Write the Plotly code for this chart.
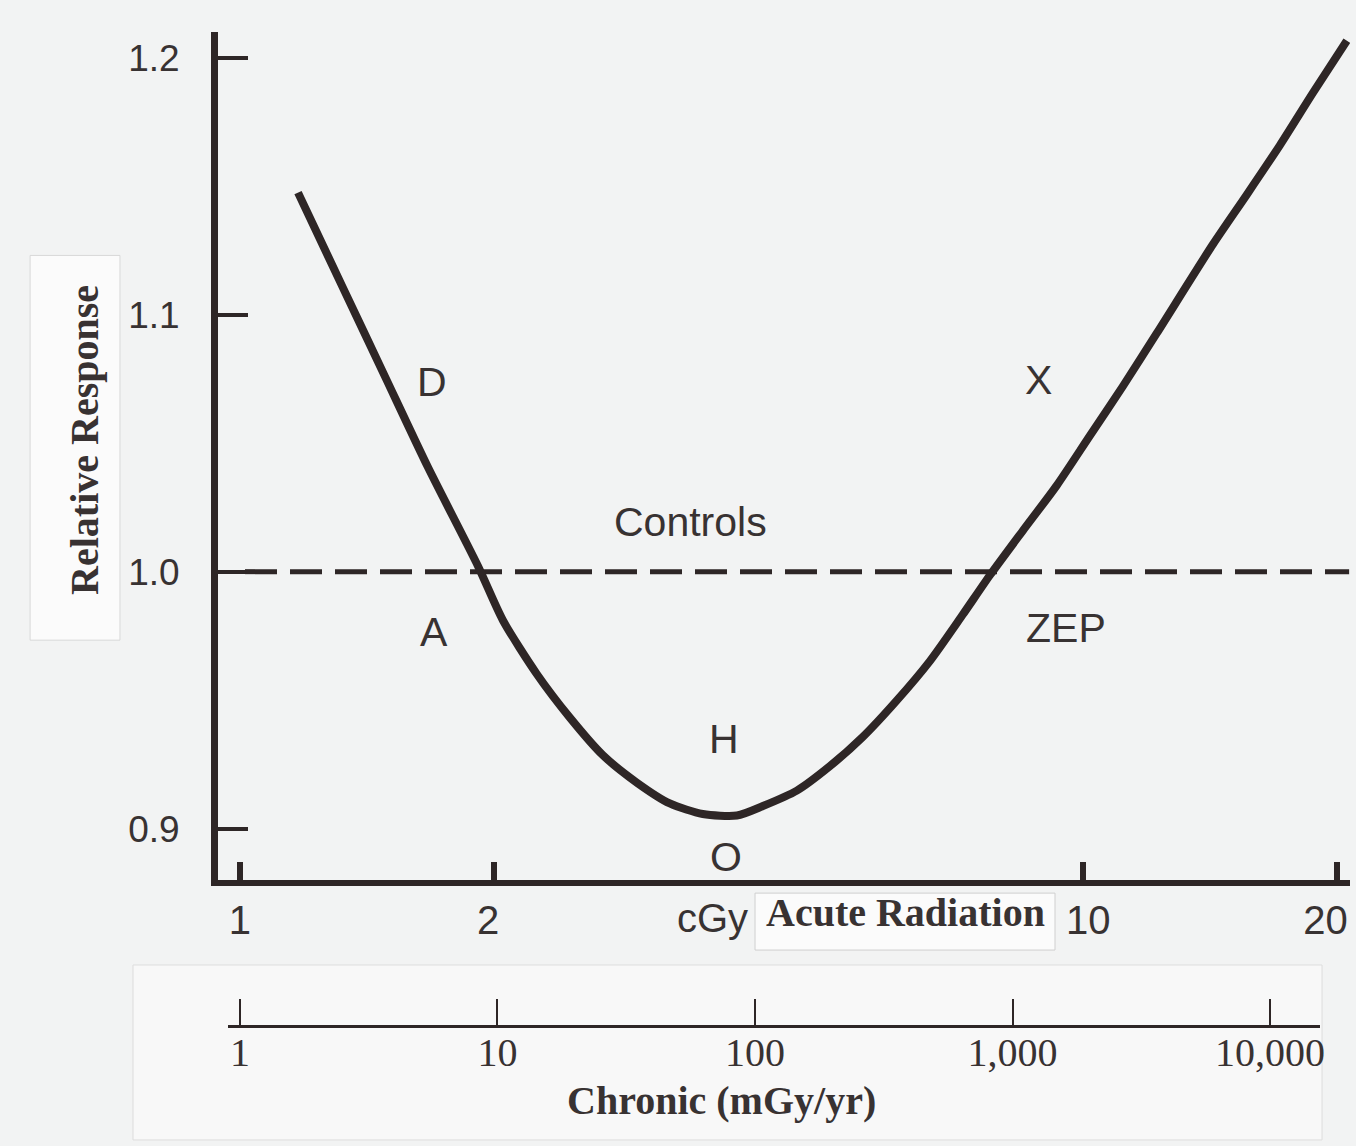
"""
Hormesis dose-response curve: relative response vs acute / chronic radiation.
"""

import math

import plotly.graph_objects as go

# curve (acute dose in cGy, relative response)
acute_dose = [1.172, 1.321, 1.486, 1.671, 1.916, 2.051, 2.250, 2.463, 2.695, 2.958,
              3.236, 3.541, 3.887, 4.173, 4.579, 5.011, 5.483, 6.017, 6.585, 7.205,
              7.759, 8.487, 9.315, 10.19, 11.15, 12.24, 14.27, 15.65, 17.13, 18.75, 20.57]
response = [1.1475, 1.1114, 1.0760, 1.0407, 1.0022, 0.9811, 0.9602, 0.9432, 0.9286, 0.9179,
            0.9098, 0.9057, 0.9051, 0.9088, 0.9148, 0.9243, 0.9357, 0.9499, 0.9652, 0.9833,
            0.9986, 1.0159, 1.0336, 1.0528, 1.0720, 1.0928, 1.1274, 1.1467, 1.1659, 1.1863, 1.2066]

controls_x = [1.014, 20.7]
controls_y = [1.0, 1.0]

acute_ticks = [1, 2, 10, 20]
# non-breaking spaces nudge the labels the way they sit in the scan
acute_ticktext = ["1", "2\u00a0", "\u00a010", "20\u00a0\u00a0"]
response_ticks = [0.9, 1.0, 1.1, 1.2]
response_ticktext = ["0.9", "1.0", "1.1", "1.2"]
chronic_ticks = [1, 10, 100, 1000, 10000]
chronic_ticktext = ["1", "10", "100", "1,000", "10,000"]

region_labels = ["D", "A", "Controls", "H", "O", "X", "ZEP"]
region_x = [1.69, 1.70, 3.42, 3.75, 3.77, 8.85, 9.55]
region_y = [1.0737, 0.9765, 1.0195, 0.9348, 0.889, 1.0746, 0.9779]

INK = "#2e2626"
TEXT = "#383232"
SANS = "Liberation Sans, Arial"
SERIF = "Liberation Serif, Times New Roman, serif"

fig = go.Figure()

fig.add_trace(
    go.Scatter(
        x=controls_x,
        y=controls_y,
        mode="lines",
        line=dict(color=INK, width=5, dash="32px,13px"),
        hoverinfo="skip",
        showlegend=False,
    )
)
fig.add_trace(
    go.Scatter(
        x=acute_dose,
        y=response,
        mode="lines",
        line=dict(color=INK, width=8, shape="spline", smoothing=0.7),
        cliponaxis=False,
        name="Response",
        showlegend=False,
    )
)
# dummy trace so the chronic axis is drawn
fig.add_trace(
    go.Scatter(
        x=[1, 10000],
        y=[0, 0],
        xaxis="x2",
        yaxis="y2",
        mode="markers",
        marker=dict(opacity=0),
        hoverinfo="skip",
        showlegend=False,
    )
)

# annotations on a log axis take log10 positions
for lbl, lx, ly in zip(region_labels, region_x, region_y):
    fig.add_annotation(
        x=math.log10(lx), y=ly, text=lbl, showarrow=False,
        font=dict(family=SANS, size=41, color=TEXT),
    )

# pasted white label boxes
fig.add_shape(type="rect", xref="paper", yref="paper",
              x0=-0.166, x1=-0.0866, y0=0.423, y1=0.788,
              fillcolor="#fbfbfb", line=dict(color="#d8d8d8", width=1), layer="below")
fig.add_shape(type="rect", xref="paper", yref="paper",
              x0=0.4744, x1=0.7394, y0=0.129, y1=0.183,
              fillcolor="#fbfbfb", line=dict(color="#cfcfcf", width=1), layer="below")
fig.add_shape(type="rect", xref="paper", yref="paper",
              x0=-0.0751, x1=0.9753, y0=-0.0512, y1=0.1148,
              fillcolor="#f8f8f8", line=dict(color="#dddddd", width=1), layer="below")

fig.add_annotation(xref="paper", yref="paper", x=-0.1175, y=0.613,
                   xanchor="center", yanchor="middle",
                   text="<b>Relative Response</b>", textangle=-90, showarrow=False,
                   font=dict(family=SERIF, size=40, color=TEXT))
fig.add_annotation(xref="paper", yref="paper", x=0.4364, y=0.159,
                   xanchor="center", yanchor="middle",
                   text="cGy", showarrow=False,
                   font=dict(family=SANS, size=40, color=TEXT))
fig.add_annotation(xref="paper", yref="paper", x=0.6069, y=0.165,
                   xanchor="center", yanchor="middle",
                   text="<b>Acute Radiation</b>", showarrow=False,
                   font=dict(family=SERIF, size=40, color=TEXT))
fig.add_annotation(xref="paper", yref="paper", x=0.4452, y=-0.0133,
                   xanchor="center", yanchor="middle",
                   text="<b>Chronic (mGy/yr)</b>", showarrow=False,
                   font=dict(family=SERIF, size=40, color=TEXT))

fig.update_layout(
    width=1356,
    height=1146,
    margin=dict(l=218, r=6, t=32, b=60),
    paper_bgcolor="#f2f3f3",
    plot_bgcolor="rgba(0,0,0,0)",
    xaxis=dict(
        type="log",
        range=[-0.026, 1.317],
        domain=[0, 1],
        anchor="y",
        automargin=False,
        tickvals=acute_ticks,
        ticktext=acute_ticktext,
        ticks="inside",
        ticklen=18,
        tickwidth=6,
        tickcolor=INK,
        showline=True,
        linewidth=6,
        linecolor=INK,
        showgrid=False,
        zeroline=False,
        ticklabelstandoff=0,
        ticklabeloverflow="allow",
        tickfont=dict(family=SANS, size=40, color=TEXT),
    ),
    yaxis=dict(
        range=[0.88, 1.21],
        domain=[0.1954, 1],
        anchor="x",
        automargin=False,
        tickvals=response_ticks,
        ticktext=response_ticktext,
        ticks="inside",
        ticklen=30,
        tickwidth=4,
        tickcolor=INK,
        showline=True,
        linewidth=7,
        linecolor=INK,
        showgrid=False,
        zeroline=False,
        ticklabelstandoff=24,
        tickfont=dict(family=SANS, size=37, color=TEXT),
    ),
    xaxis2=dict(
        type="log",
        range=[-0.0466, 4.194],
        domain=[0.0088, 0.9735],
        anchor="y2",
        automargin=False,
        tickvals=chronic_ticks,
        ticktext=chronic_ticktext,
        ticks="inside",
        ticklen=26,
        tickwidth=2,
        tickcolor=INK,
        showline=True,
        linewidth=3,
        linecolor=INK,
        showgrid=False,
        zeroline=False,
        ticklabelstandoff=-10,
        tickfont=dict(family=SERIF, size=40, color=TEXT),
    ),
    yaxis2=dict(
        domain=[0.0579, 0.06],
        anchor="x2",
        automargin=False,
        visible=False,
        range=[0, 1],
    ),
)

fig.write_html(
    "out.html",
    config={"displayModeBar": False},
    post_script=(
        "document.body.style.margin='0';"
        "document.body.style.overflow='hidden';"
        "document.documentElement.style.overflow='hidden';"
    ),
)
